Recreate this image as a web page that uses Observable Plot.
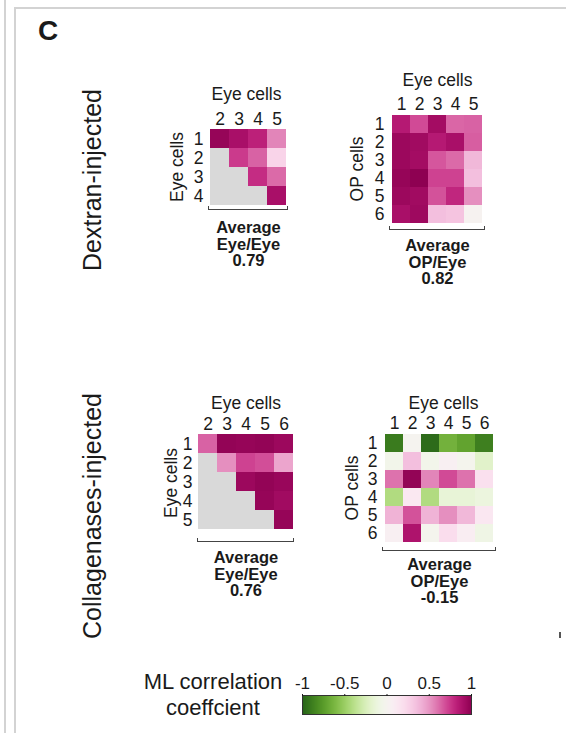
<!DOCTYPE html>
<html>
<head>
<meta charset="utf-8">
<script src="https://cdn.jsdelivr.net/npm/d3@7"></script>
<script src="https://cdn.jsdelivr.net/npm/@observablehq/plot@0.6"></script>
<style>
  html, body { margin: 0; padding: 0; background: #fff; }
  #page { position: relative; width: 566px; height: 733px; overflow: hidden; font-family: "Liberation Sans", Arial, sans-serif; color: #1a1a1a; }
  .abs { position: absolute; }
  .rot { position: absolute; white-space: nowrap; line-height: 1; transform: translate(-50%, -50%) rotate(-90deg); }
  .bracket { position: absolute; border-left: 1.5px solid #444; border-right: 1.5px solid #444; border-bottom: 1.5px solid #444; height: 4px; box-sizing: border-box; }
</style>
</head>
<body>
<div id="page"></div>
<script>
// ---------------- data ----------------
const panelLabel = "C";
const groupLabels = ["Dextran-injected", "Collagenases-injected"];

// Dextran-injected, Eye/Eye (upper triangle)
const dexEyeEyeCols = ["2", "3", "4", "5"];
const dexEyeEyeRows = ["1", "2", "3", "4"];
const dexEyeEyeValues = [
  [0.97, 0.90, 0.82, 0.55],
  [null, 0.74, 0.64, 0.25],
  [null, null, 0.78, 0.62],
  [null, null, null, 0.90]
];
const dexEyeEyeAverage = ["Average", "Eye/Eye", "0.79"];

// Dextran-injected, OP/Eye
const dexOpEyeCols = ["1", "2", "3", "4", "5"];
const dexOpEyeRows = ["1", "2", "3", "4", "5", "6"];
const dexOpEyeValues = [
  [0.85, 0.70, 0.92, 0.63, 0.64],
  [0.95, 0.93, 0.85, 0.90, 0.65],
  [0.95, 0.92, 0.67, 0.62, 0.38],
  [0.97, 1.00, 0.72, 0.72, 0.35],
  [0.95, 0.93, 0.68, 0.80, 0.52],
  [0.90, 0.94, 0.35, 0.33, 0.02]
];
const dexOpEyeAverage = ["Average", "OP/Eye", "0.82"];

// Collagenases-injected, Eye/Eye (upper triangle)
const colEyeEyeCols = ["2", "3", "4", "5", "6"];
const colEyeEyeRows = ["1", "2", "3", "4", "5"];
const colEyeEyeValues = [
  [0.64, 0.98, 0.97, 0.98, 0.95],
  [null, 0.52, 0.72, 0.69, 0.45],
  [null, null, 0.95, 0.98, 0.96],
  [null, null, null, 0.97, 0.93],
  [null, null, null, null, 0.97]
];
const colEyeEyeAverage = ["Average", "Eye/Eye", "0.76"];

// Collagenases-injected, OP/Eye
const colOpEyeCols = ["1", "2", "3", "4", "5", "6"];
const colOpEyeRows = ["1", "2", "3", "4", "5", "6"];
const colOpEyeValues = [
  [-0.90, 0.00, -0.97, -0.65, -0.72, -0.88],
  [-0.05, 0.35, -0.05, 0.05, -0.02, -0.20],
  [0.60, 0.98, 0.55, 0.70, 0.60, 0.18],
  [-0.42, 0.12, -0.42, -0.15, -0.15, -0.12],
  [0.40, 0.68, 0.40, 0.52, 0.38, 0.13],
  [0.05, 0.88, -0.02, 0.20, 0.08, -0.08]
];
const colOpEyeAverage = ["Average", "OP/Eye", "-0.15"];

const axisTitleEye = "Eye cells";
const axisTitleOP = "OP cells";

// legend
const legendTitle = ["ML correlation", "coeffcient"];
const legendTicks = [-1, -0.5, 0, 0.5, 1];
const legendTickLabels = ["-1", "-0.5", "0", "0.5", "1"];

// ---------------- layout ----------------
const FONT = '"Liberation Sans", Arial, sans-serif';
const page = document.getElementById("page");
const colorScale = { type: "linear", scheme: "piyg", reverse: true, domain: [-1, 1] };

function el(cls, css, text) {
  const d = document.createElement("div");
  d.className = cls;
  Object.assign(d.style, css);
  if (text != null) d.textContent = text;
  page.appendChild(d);
  return d;
}

// panel frame lines
el("abs", { left: "4px", top: "0px", width: "2px", height: "733px", background: "#d3d3d3" });
el("abs", { left: "14px", top: "8px", width: "2px", height: "725px", background: "#d3d3d3" });
el("abs", { left: "14px", top: "7px", width: "552px", height: "2px", background: "#d3d3d3" });
el("abs", { left: "559px", top: "632px", width: "2px", height: "6px", background: "#555" });

el("abs", { left: "38px", top: "15px", fontSize: "28px", fontWeight: "bold", lineHeight: "32px" }, panelLabel);
el("rot", { left: "92px", top: "180px", fontSize: "25px" }, groupLabels[0]);
el("rot", { left: "92px", top: "516px", fontSize: "25px" }, groupLabels[1]);

function heatmap(cfg) {
  const { cols, rows, values, average, xTitle, yTitle, box, xTitleDy, xTitleDx, yTitlePos, avgDy, bracketDy } = cfg;
  const mL = 70, mT = 60, mR = 20, mB = 80;
  const all = [];
  const filled = [];
  rows.forEach((r, i) => cols.forEach((c, j) => {
    all.push({ row: r, col: c });
    const v = values[i][j];
    if (v != null) filled.push({ row: r, col: c, value: v });
  }));
  const fw = box.right - box.left, fh = box.bottom - box.top;
  const chart = Plot.plot({
    width: mL + fw + mR,
    height: mT + fh + mB,
    marginLeft: mL, marginTop: mT, marginRight: mR, marginBottom: mB,
    x: { domain: cols, padding: 0, axis: null },
    y: { domain: rows, padding: 0, axis: null },
    color: colorScale,
    style: { fontFamily: FONT, fontSize: "17.5px", color: "#1a1a1a", background: "transparent", overflow: "visible" },
    marks: [
      Plot.cell(all, { x: "col", y: "row", fill: "#d9d9d9", inset: 0 }),
      Plot.cell(filled, { x: "col", y: "row", fill: "value", inset: 0 }),
      Plot.axisX({ anchor: "top", tickSize: 0, tickPadding: 4, label: null, fontSize: 17.5 }),
      Plot.axisY({ anchor: "left", tickSize: 0, tickPadding: 6, label: null, fontSize: 17.5 }),
      Plot.text([xTitle], { frameAnchor: "top", lineAnchor: "middle", text: d => d, dy: xTitleDy, dx: xTitleDx, fontSize: 17.5 }),
      Plot.text([average.join("\n")], { frameAnchor: "bottom", text: d => d, lineAnchor: "top", dy: avgDy, fontSize: 16.5, fontWeight: "bold", lineHeight: 1.0 })
    ]
  });
  const wrap = document.createElement("div");
  wrap.className = "abs";
  wrap.style.left = (box.left - mL) + "px";
  wrap.style.top = (box.top - mT) + "px";
  wrap.appendChild(chart);
  page.appendChild(wrap);
  el("rot", { left: yTitlePos[0] + "px", top: yTitlePos[1] + "px", fontSize: "17.5px" }, yTitle);
  el("bracket", { left: (box.left - 1) + "px", top: (box.bottom + bracketDy - 4) + "px", width: (fw + 2) + "px" });
}

heatmap({ cols: dexEyeEyeCols, rows: dexEyeEyeRows, values: dexEyeEyeValues, average: dexEyeEyeAverage,
  xTitle: axisTitleEye, yTitle: axisTitleEye,
  box: { left: 209, right: 287, top: 128, bottom: 206 },
  xTitleDy: -34, xTitleDx: -2, yTitlePos: [178, 167], avgDy: 15, bracketDy: 4 });

heatmap({ cols: dexOpEyeCols, rows: dexOpEyeRows, values: dexOpEyeValues, average: dexOpEyeAverage,
  xTitle: axisTitleEye, yTitle: axisTitleOP,
  box: { left: 390, right: 484, top: 113, bottom: 224 },
  xTitleDy: -33, xTitleDx: 0, yTitlePos: [358, 169], avgDy: 15, bracketDy: 6 });

heatmap({ cols: colEyeEyeCols, rows: colEyeEyeRows, values: colEyeEyeValues, average: colEyeEyeAverage,
  xTitle: axisTitleEye, yTitle: axisTitleEye,
  box: { left: 198, right: 293, top: 433, bottom: 529 },
  xTitleDy: -30, xTitleDx: 0, yTitlePos: [172, 483], avgDy: 22, bracketDy: 13 });

heatmap({ cols: colOpEyeCols, rows: colOpEyeRows, values: colOpEyeValues, average: colOpEyeAverage,
  xTitle: axisTitleEye, yTitle: axisTitleOP,
  box: { left: 383, right: 495, top: 432, bottom: 543 },
  xTitleDy: -29, xTitleDx: 4, yTitlePos: [353, 488], avgDy: 15, bracketDy: 8 });

// ---------------- legend ----------------
el("abs", { left: "113px", top: "669px", width: "200px", textAlign: "center", fontSize: "22px", lineHeight: "26px" }, legendTitle.join("\n")).style.whiteSpace = "pre";

(function legend() {
  const box = { left: 302, right: 471, top: 695, bottom: 714 };
  const mL = 20, mT = 30, mR = 20, mB = 10;
  const fw = box.right - box.left, fh = box.bottom - box.top;
  const rampMark = Plot.raster
    ? Plot.raster({ fill: (x, y) => x, x1: -1, x2: 1, y1: 0, y2: 1, width: fw, height: 1, imageRendering: "auto" })
    : Plot.rectY(d3.ticks(-1, 1, 200), { x1: d => d - 0.0051, x2: d => d + 0.0051, y1: 0, y2: 1, fill: d => d });
  const chart = Plot.plot({
    width: mL + fw + mR, height: mT + fh + mB,
    marginLeft: mL, marginTop: mT, marginRight: mR, marginBottom: mB,
    x: { domain: [-1, 1], axis: null },
    y: { domain: [0, 1], axis: null },
    color: colorScale,
    style: { fontFamily: FONT, fontSize: "17px", color: "#1a1a1a", background: "transparent", overflow: "visible" },
    marks: [
      rampMark,
      Plot.frame({ stroke: "#333", strokeWidth: 1 }),
      Plot.axisX({ anchor: "top", ticks: legendTicks, tickFormat: (d) => legendTickLabels[legendTicks.indexOf(d)], tickSize: 2, tickPadding: 5, label: null, fontSize: 17 })
    ]
  });
  const wrap = document.createElement("div");
  wrap.className = "abs";
  wrap.style.left = (box.left - mL) + "px";
  wrap.style.top = (box.top - mT) + "px";
  wrap.appendChild(chart);
  page.appendChild(wrap);
})();
</script>
</body>
</html>
